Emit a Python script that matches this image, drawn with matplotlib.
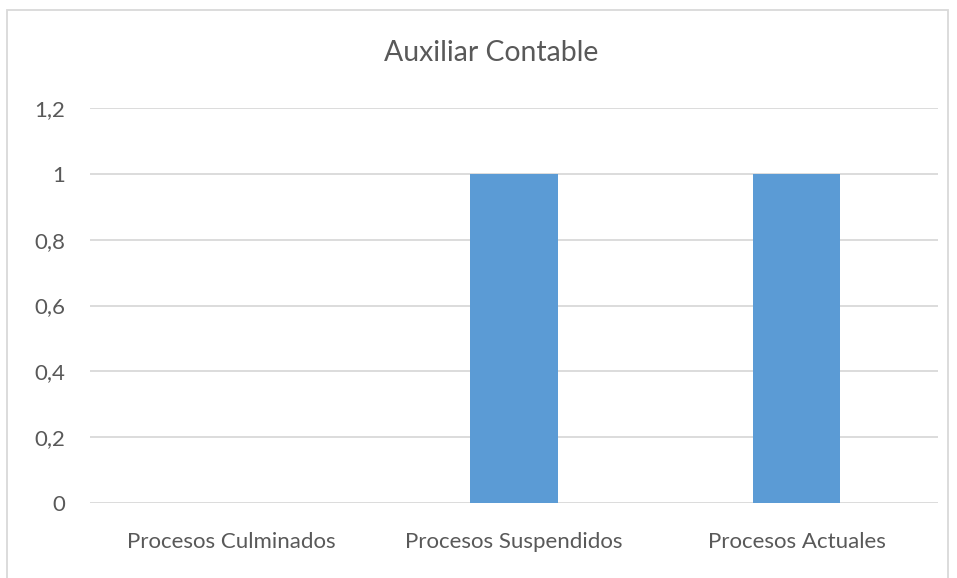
import matplotlib.pyplot as plt
import matplotlib.patches as mpatches
import numpy as np

plt.rcParams['font.family'] = ['Lato', 'DejaVu Sans']

categories = ['Procesos Culminados', 'Procesos Suspendidos', 'Procesos Actuales']
values = [0, 1, 1]
yticks = [0, 0.2, 0.4, 0.6, 0.8, 1, 1.2]
ytick_labels = ['0', '0,2', '0,4', '0,6', '0,8', '1', '1,2']

W, H = 957, 578
fig = plt.figure(figsize=(W / 100, H / 100), dpi=100)
ax = fig.add_axes([90 / W, 1 - 503 / H, (938 - 90) / W, (503 - 108) / H])

x = np.arange(len(categories))
ax.bar(x, values, width=0.31, color='#5b9bd5', zorder=3)

ax.set_xlim(-0.5, len(categories) - 0.5)
ax.set_ylim(0, 1.2)
ax.set_yticks(yticks)
ax.set_yticklabels(ytick_labels)
ax.set_xticks(x)
ax.set_xticklabels(categories)
ax.tick_params(axis='both', length=0, labelsize=16, labelcolor='#595959')
ax.tick_params(axis='y', pad=18)
ax.tick_params(axis='x', pad=21)
ax.grid(axis='y', color='#d9d9d9', linewidth=1.3, zorder=0)
for s in ax.spines.values():
    s.set_visible(False)

fig.text(491 / W, 1 - 53 / H, 'Auxiliar Contable', ha='center', va='center',
         fontsize=20.4, color='#595959')

# chart frame
border = mpatches.Rectangle((7.5 / W, -0.1), (948 - 7.5) / W, 1.1 - 9.5 / H,
                            transform=fig.transFigure, fill=False,
                            edgecolor='#d9d9d9', linewidth=1.3)
fig.patches.append(border)

fig.savefig('out.png', dpi=100)
